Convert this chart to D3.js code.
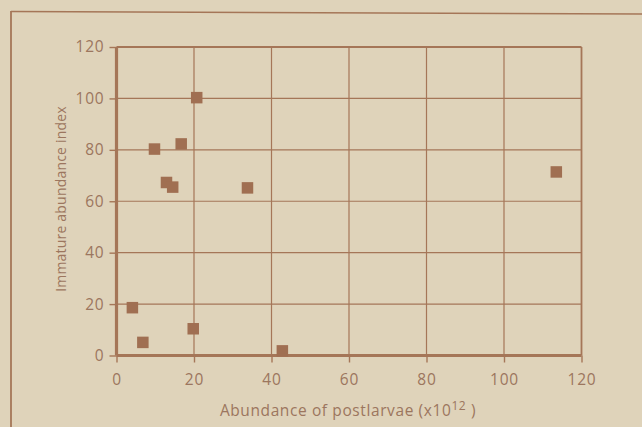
<!DOCTYPE html>
<html><head><meta charset="utf-8">
<script src="https://cdn.jsdelivr.net/npm/d3@7"></script>
<style>
html,body{margin:0;padding:0;background:#dfd3ba;}
svg{display:block;}
text{font-family:"Open Sans","Noto Sans",sans-serif;fill:#9c765e;}
</style></head><body>
<div id="chart"></div>
<script>
const xValues = [4.1, 6.8, 9.8, 12.9, 14.5, 16.7, 19.8, 20.7, 33.8, 42.8, 113.5];
const yValues = [18.6, 5.1, 80.3, 67.3, 65.5, 82.3, 10.4, 100.3, 65.2, 1.8, 71.4];
const xTicks = [0, 20, 40, 60, 80, 100, 120];
const yTicks = [0, 20, 40, 60, 80, 100, 120];
const xTitle = "Abundance of postlarvae (x10";
const xTitleSup = "12";
const yTitle = "Immature abundance index";

(function () {
const W = 642, H = 427;
const pL = 116.5, pR = 581.5, pT = 47, pB = 355.5;
const brown = "#a57658";

const svg = d3.select("#chart").append("svg").attr("width", W).attr("height", H);
svg.append("rect").attr("width", W).attr("height", H).attr("fill", "#dfd3ba");

// outer frame
svg.append("line").attr("x1", 11).attr("x2", 11).attr("y1", 11).attr("y2", H)
  .attr("stroke", brown).attr("stroke-width", 1.8);
svg.append("line").attr("x1", 11).attr("x2", W).attr("y1", 11.5).attr("y2", 14)
  .attr("stroke", brown).attr("stroke-width", 1.6);

const x = d3.scaleLinear().domain([0, 120]).range([pL, pR]);
const y = d3.scaleLinear().domain([0, 120]).range([pB, pT]);

// grid
const g = svg.append("g");
g.selectAll(".vg").data(xTicks.slice(1, -1)).join("line")
  .attr("x1", d => x(d)).attr("x2", d => x(d)).attr("y1", pT).attr("y2", pB)
  .attr("stroke", brown).attr("stroke-width", 1.2);
g.selectAll(".hg").data(yTicks.slice(1, -1)).join("line")
  .attr("x1", pL).attr("x2", pR).attr("y1", d => y(d)).attr("y2", d => y(d))
  .attr("stroke", brown).attr("stroke-width", 1.2);
g.append("line").attr("x1", pL).attr("x2", pR).attr("y1", pT).attr("y2", pT)
  .attr("stroke", brown).attr("stroke-width", 1.8);
g.append("line").attr("x1", pR).attr("x2", pR).attr("y1", pT).attr("y2", pB)
  .attr("stroke", brown).attr("stroke-width", 1.8);

// axes
const xAxis = svg.append("g").attr("transform", `translate(0,${pB})`)
  .call(d3.axisBottom(x).tickValues(xTicks).tickSize(7).tickPadding(11).tickFormat(d3.format("d")));
const yAxis = svg.append("g").attr("transform", `translate(${pL},0)`)
  .call(d3.axisLeft(y).tickValues(yTicks).tickSize(7).tickPadding(5).tickFormat(d3.format("d")));
[xAxis, yAxis].forEach(a => {
  a.select(".domain").attr("stroke", brown).attr("stroke-width", 3.2);
  a.selectAll(".tick line").attr("stroke", brown).attr("stroke-width", 1.4);
  a.selectAll(".tick text").attr("fill", "#9c765e").style("font-size", "15.5px")
    .style("letter-spacing", "0.8px")
    .style("font-family", '"Open Sans","Noto Sans",sans-serif');
});
yAxis.select(".domain").attr("d", `M0,${pT}V${pB}`);
xAxis.select(".domain").attr("d", `M${pL},0H${pR}`);

// points
const pts = xValues.map((v, i) => ({x: v, y: yValues[i]}));
const s = 11.5;
svg.selectAll(".pt").data(pts).join("rect")
  .attr("x", d => x(d.x) - s / 2).attr("y", d => y(d.y) - s / 2)
  .attr("width", s).attr("height", s).attr("fill", "#a06f52");

// titles
const xt = svg.append("text").attr("x", 348).attr("y", 416)
  .attr("text-anchor", "middle").style("font-size", "15.5px").style("letter-spacing", "0.6px");
xt.append("tspan").text(xTitle);
xt.append("tspan").attr("dy", -6).style("font-size", "12px").text(xTitleSup);
xt.append("tspan").attr("dy", 6).text(" )");

svg.append("text").attr("transform", `translate(66,${199}) rotate(-90)`)
  .attr("text-anchor", "middle").style("font-size", "14px").style("letter-spacing", "0.2px").text(yTitle);
})();
</script>
</body></html>
